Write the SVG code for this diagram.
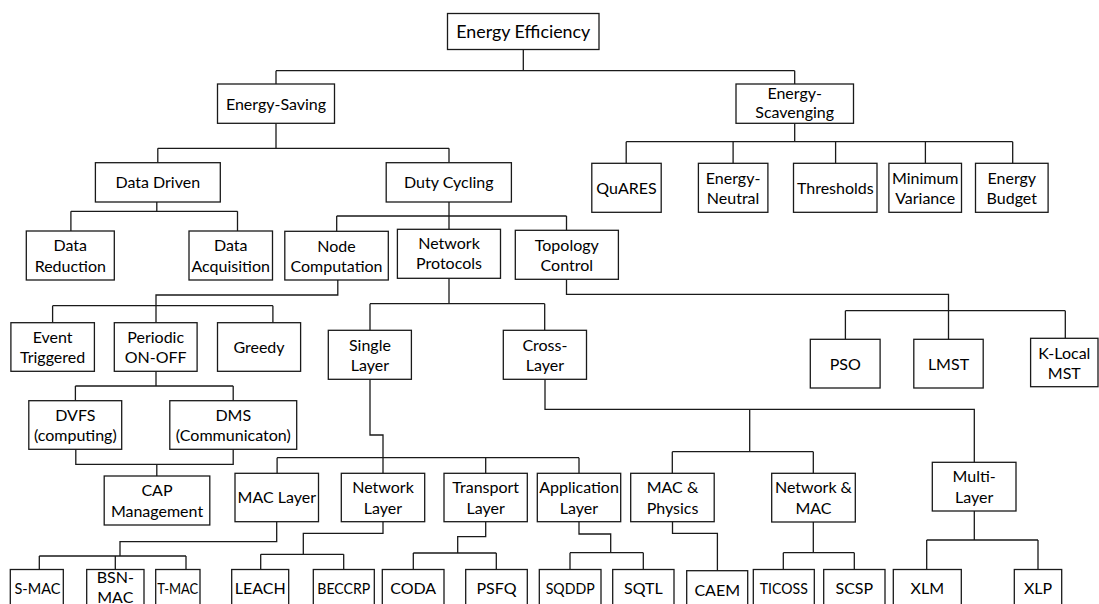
<svg xmlns="http://www.w3.org/2000/svg" width="1099" height="604" viewBox="0 0 1099 604">
<style>
rect{fill:#fff;stroke:#1a1a1a;stroke-width:1.3}
text{font-family:Lato,"Liberation Sans",Arial,sans-serif;font-size:16px;fill:#000;text-anchor:middle}
.t{font-size:18px}
#connectors path{fill:none;stroke:#1a1a1a;stroke-width:1.3}
</style>
<rect x="0" y="0" width="1099" height="604" style="fill:#fff;stroke:none"/>
<g id="connectors">
<path d="M523.3,49.3V70.7M276,70.7H794.7M276,70.7V84M794.7,70.7V84"/>
<path d="M276,123.3V148.3M157.8,148.3H449M157.8,148.3V162.7M449,148.3V162.7"/>
<path d="M794.7,123.3V141.7M626.2,141.7H1012.7M626.2,141.7V163.3M733.1,141.7V163.3M835.6,141.7V163.3M925.4,141.7V163.3M1012.7,141.7V163.3"/>
<path d="M156.8,202V211.3M70.9,211.3H237.5M70.9,211.3V231M237.5,211.3V231"/>
<path d="M449,202V229.3M336.7,216H566.5M336.7,216V231.3M566.5,216V230.3"/>
<path d="M337.8,280V295H156V322.7M52.6,305.7H272.9M52.6,305.7V322.7M272.9,305.7V333.3"/>
<path d="M156,371.3V386M75.4,386H233.2M75.4,386V400.7M233.2,386V400.7"/>
<path d="M75.8,449.3V464.3H233.2V449.3M156.8,464.3V476"/>
<path d="M449,278.3V303.7M370,303.7H544.7M370,303.7V330.3M544.7,303.7V330.3"/>
<path d="M566.5,279.3V294.3H948.5V353.3M845.4,310.7H1065.3M845.4,310.7V339.3M1065.3,310.7V338.3"/>
<path d="M370,379.3V435H383V473.3M277.1,457.7H579M277.1,457.7V473.3M485.7,457.7V473.3M579,457.7V473.3"/>
<path d="M545,379.3V409.3H974.3V462.3M749.7,409.3V451.7M672.3,451.7H813.3M672.3,451.7V473.3M813.3,451.7V473.3"/>
<path d="M276.7,521.7V541.7H120V556M39.3,556H186M39.3,556V569.5M115.3,556V569.5M186,556V569.5"/>
<path d="M383,521.7V533.3H303.3V554.3M260.7,554.3H343.7M260.7,554.3V569.5M343.7,554.3V569.5"/>
<path d="M485.7,521.7V536.7H457.7V553M413.3,553H496.3M413.3,553V569.5M496.3,553V569.5"/>
<path d="M579,521.7V534H610.7V552.7M570,552.7H643.3M570,552.7V569.5M643.3,552.7V569.5"/>
<path d="M672.5,521.7V533.3H717.4V570.7"/>
<path d="M813.3,522V552.7M783.3,552.7H854.3M783.3,552.7V569.5M854.3,552.7V569.5"/>
<path d="M974.3,511V540M926.7,540H1038M926.7,540V569.5M1038,540V569.5"/>
</g>
<g id="ee"><rect x="447.5" y="13.5" width="151.5" height="36"/><text class="t" x="523.3" y="38" textLength="134" lengthAdjust="spacingAndGlyphs">Energy Efficiency</text></g>
<g id="es"><rect x="217.5" y="84" width="117" height="39.3"/><text x="276" y="109.5">Energy-Saving</text></g>
<g id="esc"><rect x="736" y="84" width="117.5" height="39.3"/><text x="794.7" y="99">Energy-</text><text x="794.7" y="118">Scavenging</text></g>
<g id="dd"><rect x="95.4" y="162.7" width="124.9" height="39.3"/><text x="157.8" y="188">Data Driven</text></g>
<g id="dc"><rect x="386.2" y="162.7" width="125.2" height="39.3"/><text x="448.8" y="188">Duty Cycling</text></g>
<g id="quares"><rect x="591.8" y="163.3" width="69.4" height="49"/><text x="626.5" y="193.5">QuARES</text></g>
<g id="en"><rect x="698.4" y="163.3" width="69.5" height="49"/><text x="733.1" y="183.5">Energy-</text><text x="733.1" y="203.5">Neutral</text></g>
<g id="thr"><rect x="793.5" y="163.3" width="83.5" height="49"/><text x="835.3" y="193.5">Thresholds</text></g>
<g id="mv"><rect x="888.9" y="163.3" width="72.6" height="49"/><text x="925.2" y="183.5">Minimum</text><text x="925.2" y="203.5">Variance</text></g>
<g id="eb"><rect x="975.5" y="163.3" width="72.6" height="49"/><text x="1011.8" y="183.5">Energy</text><text x="1011.8" y="203.5">Budget</text></g>
<g id="dr"><rect x="26.3" y="231" width="88" height="49"/><text x="70.3" y="251">Data</text><text x="70.3" y="272">Reduction</text></g>
<g id="da"><rect x="189" y="231" width="83.5" height="49"/><text x="230.7" y="251">Data</text><text x="230.7" y="272">Acquisition</text></g>
<g id="nc"><rect x="284.8" y="231.3" width="103.5" height="48.7"/><text x="336.5" y="251.5">Node</text><text x="336.5" y="272">Computation</text></g>
<g id="np"><rect x="397.4" y="229.3" width="103.1" height="49"/><text x="449" y="248.5">Network</text><text x="449" y="269">Protocols</text></g>
<g id="tc"><rect x="515.3" y="230.3" width="103.1" height="49"/><text x="566.8" y="250.5">Topology</text><text x="566.8" y="271">Control</text></g>
<g id="et"><rect x="10.9" y="322.7" width="83.5" height="48.6"/><text x="52.6" y="342.5">Event</text><text x="52.6" y="363">Triggered</text></g>
<g id="po"><rect x="114.3" y="322.7" width="82.8" height="48.6"/><text x="155.7" y="342.5">Periodic</text><text x="155.7" y="363">ON-OFF</text></g>
<g id="gr"><rect x="217.5" y="322.7" width="83.1" height="48.6"/><text x="259" y="352.5">Greedy</text></g>
<g id="sl"><rect x="328.3" y="330.3" width="83.1" height="49"/><text x="369.9" y="350.5">Single</text><text x="369.9" y="370.5">Layer</text></g>
<g id="cl"><rect x="503.3" y="330.3" width="83.2" height="49"/><text x="544.9" y="350.5">Cross-</text><text x="544.9" y="370.5">Layer</text></g>
<g id="pso"><rect x="810.3" y="339.3" width="69.8" height="48.7"/><text x="845.2" y="369.5">PSO</text></g>
<g id="lmst"><rect x="913.8" y="339.3" width="69.4" height="48.7"/><text x="948.5" y="369.5">LMST</text></g>
<g id="klm"><rect x="1030.6" y="338.3" width="67.4" height="48.4"/><text x="1064.3" y="358.5">K-Local</text><text x="1064.3" y="378.5">MST</text></g>
<g id="dvfs"><rect x="28.8" y="400.7" width="92.9" height="48.6"/><text x="75.3" y="420.5">DVFS</text><text x="75.3" y="441">(computing)</text></g>
<g id="dms"><rect x="169.8" y="400.7" width="126.9" height="48.6"/><text x="233.3" y="420.5">DMS</text><text x="233.3" y="441" textLength="115" lengthAdjust="spacingAndGlyphs">(Communicaton)</text></g>
<g id="cap"><rect x="104.2" y="476" width="105.6" height="49"/><text x="157" y="496">CAP</text><text x="157" y="516.5">Management</text></g>
<g id="mac"><rect x="235" y="473.3" width="83.5" height="48.4"/><text x="276.8" y="503">MAC Layer</text></g>
<g id="nl"><rect x="341.3" y="473.3" width="83.4" height="48.4"/><text x="383" y="493">Network</text><text x="383" y="513.5">Layer</text></g>
<g id="tl"><rect x="444" y="473.3" width="83.3" height="48.4"/><text x="485.7" y="493">Transport</text><text x="485.7" y="513.5">Layer</text></g>
<g id="al"><rect x="537.3" y="473.3" width="83.4" height="48.4"/><text x="579" y="493">Application</text><text x="579" y="513.5">Layer</text></g>
<g id="mp"><rect x="630.7" y="473.3" width="83.5" height="48.4"/><text x="672.5" y="493">MAC &amp;</text><text x="672.5" y="513.5">Physics</text></g>
<g id="nm"><rect x="771.7" y="473.3" width="83.6" height="48.7"/><text x="813.5" y="493">Network &amp;</text><text x="813.5" y="513.5">MAC</text></g>
<g id="ml"><rect x="932.3" y="462.3" width="83.7" height="48.7"/><text x="974.2" y="482">Multi-</text><text x="974.2" y="502.5">Layer</text></g>
<g id="smac"><rect x="10.3" y="569.5" width="53" height="49"/><text x="37.5" y="594" textLength="46" lengthAdjust="spacingAndGlyphs">S-MAC</text></g>
<g id="bsn"><rect x="86.7" y="569.5" width="57.3" height="49"/><text x="115.3" y="582.5">BSN-</text><text x="115.3" y="602.5">MAC</text></g>
<g id="tmac"><rect x="155.7" y="569.5" width="44.3" height="49"/><text x="177.8" y="594" textLength="41" lengthAdjust="spacingAndGlyphs">T-MAC</text></g>
<g id="leach"><rect x="231.7" y="569.5" width="57" height="49"/><text x="260.2" y="594">LEACH</text></g>
<g id="beccrp"><rect x="313.3" y="569.5" width="61" height="49"/><text x="343.8" y="594" textLength="53" lengthAdjust="spacingAndGlyphs">BECCRP</text></g>
<g id="coda"><rect x="382.3" y="569.5" width="61.7" height="49"/><text x="413.2" y="594">CODA</text></g>
<g id="psfq"><rect x="465.7" y="569.5" width="61.6" height="49"/><text x="496.5" y="594">PSFQ</text></g>
<g id="sqddp"><rect x="539.3" y="569.5" width="61.7" height="49"/><text x="570.2" y="594" textLength="49" lengthAdjust="spacingAndGlyphs">SQDDP</text></g>
<g id="sqtl"><rect x="612.7" y="569.5" width="61.3" height="49"/><text x="643.3" y="594">SQTL</text></g>
<g id="caem"><rect x="686.7" y="570.7" width="61" height="49"/><text x="717.2" y="595.5">CAEM</text></g>
<g id="ticoss"><rect x="753.3" y="569.5" width="61" height="49"/><text x="783.8" y="594" textLength="48" lengthAdjust="spacingAndGlyphs">TICOSS</text></g>
<g id="scsp"><rect x="823.7" y="569.5" width="61.3" height="49"/><text x="854.3" y="594">SCSP</text></g>
<g id="xlm"><rect x="893.3" y="569.5" width="68" height="49"/><text x="927.3" y="594">XLM</text></g>
<g id="xlp"><rect x="1014.3" y="569.5" width="47.4" height="49"/><text x="1038" y="594">XLP</text></g>
</svg>
